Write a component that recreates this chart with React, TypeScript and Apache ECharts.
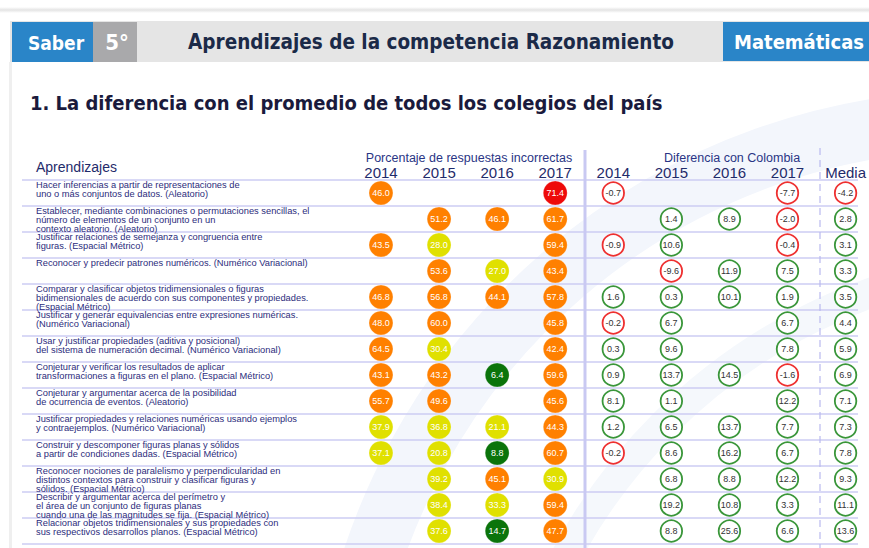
import React, { useEffect, useRef } from "react";
import * as echarts from "echarts";

const rowLabels = [
  "Hacer inferencias a partir de representaciones de\nuno o más conjuntos de datos. (Aleatorio)",
  "Establecer, mediante combinaciones o permutaciones sencillas, el\nnúmero de elementos de un conjunto en un\ncontexto aleatorio. (Aleatorio)",
  "Justificar relaciones de semejanza y congruencia entre\nfiguras. (Espacial Métrico)",
  "Reconocer y predecir patrones numéricos. (Numérico Variacional)",
  "Comparar y clasificar objetos tridimensionales o figuras\nbidimensionales de acuerdo con sus componentes y propiedades.\n(Espacial Métrico)",
  "Justificar y generar equivalencias entre expresiones numéricas.\n(Numérico Variacional)",
  "Usar y justificar propiedades (aditiva y posicional)\ndel sistema de numeración decimal. (Numérico Variacional)",
  "Conjeturar y verificar los resultados de aplicar\ntransformaciones a figuras en el plano. (Espacial Métrico)",
  "Conjeturar y argumentar acerca de la posibilidad\nde ocurrencia de eventos. (Aleatorio)",
  "Justificar propiedades y relaciones numéricas usando ejemplos\ny contraejemplos. (Numérico Variacional)",
  "Construir y descomponer figuras planas y sólidos\na partir de condiciones dadas. (Espacial Métrico)",
  "Reconocer nociones de paralelismo y perpendicularidad en\ndistintos contextos para construir y clasificar figuras y\nsólidos. (Espacial Métrico)",
  "Describir y argumentar acerca del perímetro y\nel área de un conjunto de figuras planas\ncuando una de las magnitudes se fija. (Espacial Métrico)",
  "Relacionar objetos tridimensionales y sus propiedades con\nsus respectivos desarrollos planos. (Espacial Métrico)",
];

const columnLabels = ["2014", "2015", "2016", "2017", "2014", "2015", "2016", "2017", "Media"];

const pct2014 = [46.0, null, 43.5, null, 46.8, 48.0, 64.5, 43.1, 55.7, 37.9, 37.1, null, null, null];
const pct2015 = [null, 51.2, 28.0, 53.6, 56.8, 60.0, 30.4, 43.2, 49.6, 36.8, 20.8, 39.2, 38.4, 37.6];
const pct2016 = [null, 46.1, null, 27.0, 44.1, null, null, 6.4, null, 21.1, 8.8, 45.1, 33.3, 14.7];
const pct2017 = [71.4, 61.7, 59.4, 43.4, 57.8, 45.8, 42.4, 59.6, 45.6, 44.3, 60.7, 30.9, 59.4, 47.7];

const dif2014 = [-0.7, null, -0.9, null, 1.6, -0.2, 0.3, 0.9, 8.1, 1.2, -0.2, null, null, null];
const dif2015 = [null, 1.4, 10.6, -9.6, 0.3, 6.7, 9.6, 13.7, 1.1, 6.5, 8.6, 6.8, 19.2, 8.8];
const dif2016 = [null, 8.9, null, 11.9, 10.1, null, null, 14.5, null, 13.7, 16.2, 8.8, 10.8, 25.6];
const dif2017 = [-7.7, -2.0, -0.4, 7.5, 1.9, 6.7, 7.8, -1.6, 12.2, 7.7, 6.7, 12.2, 3.3, 6.6];
const media = [-4.2, 2.8, 3.1, 3.3, 3.5, 4.4, 5.9, 6.9, 7.1, 7.3, 7.8, 9.3, 11.1, 13.6];

const pctColumns = [pct2014, pct2015, pct2016, pct2017];
const difColumns = [dif2014, dif2015, dif2016, dif2017, media];

function toPoints(cols: (number | null)[][], offset: number) {
  const out: [number, number, number][] = [];
  cols.forEach((col, ci) => {
    col.forEach((v, ri) => {
      if (v !== null && v !== undefined) out.push([ci + offset, ri, v]);
    });
  });
  return out;
}

function pctColor(v: number) {
  if (v >= 70) return "#ee0a0a";
  if (v >= 40) return "#ff8000";
  if (v >= 20) return "#e0e000";
  return "#0b740b";
}

const FONT = "'Liberation Sans', Arial, sans-serif";
const COND = "'DejaVu Sans Condensed', 'Liberation Sans Narrow', Roboto, sans-serif";

const ringLabel = {
  show: true,
  position: "inside",
  fontFamily: FONT,
  fontSize: 9,
  color: "#333333",
  formatter: (p: any) => p.value[2].toFixed(1),
};

export default function App() {
  const ref = useRef<HTMLDivElement>(null);
  useEffect(() => {
    document.body.style.margin = "0";
    const chart = echarts.init(ref.current!, null, { renderer: "svg" });
    const rowsIdx = rowLabels.map((_, i) => String(i));
    const difPoints = toPoints(difColumns, 4);
    const option: any = {
      animation: false,
      backgroundColor: "#ffffff",
      grid: [
        { left: 381, top: 180, width: 467, height: 364 },
        { left: 22, top: 180, width: 836, height: 364 },
        { left: 22, top: 168, width: 836, height: 364 },
      ],
      xAxis: [
        {
          gridIndex: 0,
          type: "value",
          min: 0,
          max: 8,
          interval: 1,
          position: "top",
          axisLine: { show: false },
          axisTick: { show: false },
          splitLine: { show: false },
          axisLabel: {
            show: true,
            margin: 0,
            fontFamily: FONT,
            fontSize: 15,
            color: "#1f2b6b",
            formatter: (v: number) => columnLabels[v] ?? "",
          },
        },
        { gridIndex: 1, type: "value", min: 0, max: 1, show: false },
        { gridIndex: 2, type: "value", min: 0, max: 1, show: false },
      ],
      yAxis: [
        { gridIndex: 0, type: "category", data: rowsIdx, inverse: true, show: false },
        {
          gridIndex: 1,
          type: "category",
          data: rowsIdx,
          inverse: true,
          axisLine: { show: false },
          axisTick: { show: false },
          axisLabel: { show: false },
          splitLine: { show: true, interval: 0, lineStyle: { color: "#cdcdf3", width: 1.6 } },
        },
        {
          gridIndex: 2,
          type: "category",
          data: rowLabels,
          inverse: true,
          axisLine: { show: false },
          axisTick: { show: false },
          splitLine: { show: false },
          axisLabel: {
            inside: true,
            interval: 0,
            margin: 14,
            align: "left",
            verticalAlign: "top",
            fontFamily: FONT,
            fontSize: 9.3,
            lineHeight: 8.8,
            color: "#2c2c7c",
          },
        },
      ],
      series: [
        {
          type: "scatter",
          xAxisIndex: 0,
          yAxisIndex: 0,
          symbol: "circle",
          symbolSize: 24,
          data: toPoints(pctColumns, 0),
          itemStyle: {
            color: (p: any) => pctColor(p.value[2]),
            borderColor: "rgba(255,255,255,0.35)",
            borderWidth: 0.8,
            opacity: 1,
          },
          label: {
            show: true,
            position: "inside",
            fontFamily: FONT,
            fontSize: 9,
            color: "#ffffff",
            formatter: (p: any) => p.value[2].toFixed(1),
          },
          z: 5,
        },
        {
          type: "scatter",
          xAxisIndex: 0,
          yAxisIndex: 0,
          symbol: "circle",
          symbolSize: 21.5,
          data: difPoints.filter((d) => d[2] < 0),
          itemStyle: { color: "#ffffff", borderColor: "#ee3030", borderWidth: 1.8, opacity: 1 },
          label: ringLabel,
          z: 5,
        },
        {
          type: "scatter",
          xAxisIndex: 0,
          yAxisIndex: 0,
          symbol: "circle",
          symbolSize: 21.5,
          data: difPoints.filter((d) => d[2] >= 0),
          itemStyle: { color: "#ffffff", borderColor: "#3a963a", borderWidth: 1.8, opacity: 1 },
          label: ringLabel,
          z: 5,
        },
      ],
      graphic: [
        {
          type: "rect",
          z: -5,
          shape: { x: 0, y: 7, width: 869, height: 6 },
          style: {
            fill: {
              type: "linear", x: 0, y: 0, x2: 0, y2: 1,
              colorStops: [
                { offset: 0, color: "#ffffff" },
                { offset: 0.5, color: "#e4e4e4" },
                { offset: 1, color: "#ffffff" },
              ],
            },
          },
        },
        {
          type: "arc",
          z: -6,
          shape: { cx: 980, cy: 760, r: 640, startAngle: Math.PI * 1.05, endAngle: Math.PI * 1.5 },
          style: { stroke: "#f3f6fc", lineWidth: 60, fill: null },
        },
        {
          type: "arc",
          z: -6,
          shape: { cx: 1060, cy: 820, r: 560, startAngle: Math.PI * 1.05, endAngle: Math.PI * 1.45 },
          style: { stroke: "#f5f8fc", lineWidth: 30, fill: null },
        },
        { type: "rect", z: -4, shape: { x: 9, y: 62, width: 3, height: 486 }, style: { fill: "#efefef" } },
        { type: "rect", z: -3, shape: { x: 10, y: 21, width: 859, height: 41 }, style: { fill: "#e5e5e5" } },
        { type: "rect", z: -2, shape: { x: 12, y: 22, width: 81, height: 40 }, style: { fill: "#2a85c8" } },
        { type: "rect", z: -2, shape: { x: 93, y: 22, width: 44, height: 40 }, style: { fill: "#a9a9ab" } },
        { type: "rect", z: -2, shape: { x: 723, y: 22, width: 146, height: 39 }, style: { fill: "#2a85c8" } },
        {
          type: "text", z: 1, x: 56, y: 43,
          style: { text: "Saber", fill: "#ffffff", font: `bold 19px ${COND}`, align: "center", verticalAlign: "middle" },
        },
        {
          type: "text", z: 1, x: 117, y: 42,
          style: { text: "5°", fill: "#ffffff", font: `bold 22px ${COND}`, align: "center", verticalAlign: "middle" },
        },
        {
          type: "text", z: 1, x: 431, y: 42,
          style: { text: "Aprendizajes de la competencia Razonamiento", fill: "#1b2a48", font: `bold 20.5px ${COND}`, align: "center", verticalAlign: "middle" },
        },
        {
          type: "text", z: 1, x: 799, y: 42,
          style: { text: "Matemáticas", fill: "#ffffff", font: `bold 20px ${COND}`, align: "center", verticalAlign: "middle" },
        },
        {
          type: "text", z: 1, x: 30, y: 103,
          style: { text: "1. La diferencia con el promedio de todos los colegios del país", fill: "#1a1a3c", font: `bold 20px ${COND}`, align: "left", verticalAlign: "middle" },
        },
        {
          type: "text", z: 1, x: 36, y: 167,
          style: { text: "Aprendizajes", fill: "#1f2b6b", font: `14px ${FONT}`, align: "left", verticalAlign: "middle" },
        },
        {
          type: "text", z: 1, x: 469, y: 158,
          style: { text: "Porcentaje de respuestas incorrectas", fill: "#2a3585", font: `12.5px ${FONT}`, align: "center", verticalAlign: "middle" },
        },
        {
          type: "text", z: 1, x: 732, y: 158,
          style: { text: "Diferencia con Colombia", fill: "#2a3585", font: `12.5px ${FONT}`, align: "center", verticalAlign: "middle" },
        },
        {
          type: "line", z: 1,
          shape: { x1: 585, y1: 150, x2: 585, y2: 548 },
          style: { stroke: "#c9c9f2", lineWidth: 3 },
        },
        {
          type: "line", z: 1,
          shape: { x1: 820, y1: 148, x2: 820, y2: 548 },
          style: { stroke: "#b9b9ee", lineWidth: 1.2, lineDash: [7, 5] },
        },
      ],
    };
    chart.setOption(option);
    return () => chart.dispose();
  }, []);
  return <div ref={ref} style={{ width: 869, height: 548 }} />;
}
